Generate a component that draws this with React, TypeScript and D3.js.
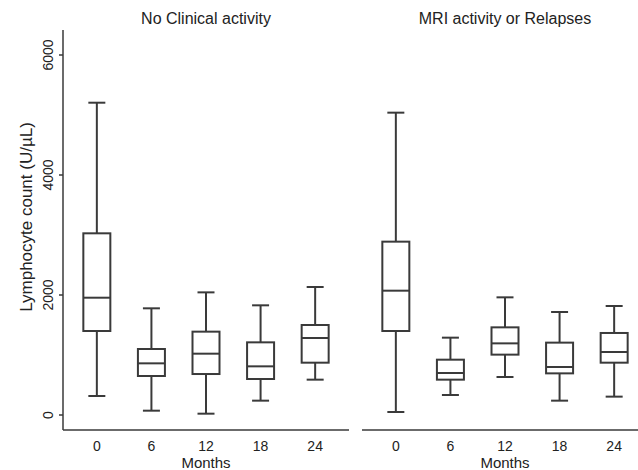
import * as d3 from 'd3';
import React, { useRef, useEffect } from 'react';

const months = ['0', '6', '12', '18', '24'];
const panelTitles = ['No Clinical activity', 'MRI activity or Relapses'];

// [lower whisker, Q1, median, Q3, upper whisker] per month
const noClinical = [
  [317, 1400, 1955, 3028, 5205],
  [72, 650, 861, 1100, 1778],
  [22, 683, 1022, 1389, 2044],
  [239, 600, 811, 1211, 1828],
  [589, 872, 1283, 1500, 2133],
];
const mriRelapses = [
  [50, 1400, 2072, 2889, 5039],
  [333, 589, 700, 922, 1289],
  [633, 1006, 1194, 1461, 1961],
  [239, 694, 800, 1206, 1717],
  [306, 872, 1050, 1367, 1817],
];
const yTicks = [0, 2000, 4000, 6000];

function App() {
  const svgRef = useRef(null);

  useEffect(() => {
    const width = 638,
      height = 470;
    const stroke = '#3a3a3a';
    const font = '"Liberation Sans", Arial, sans-serif';

    const svg = d3
      .select(svgRef.current)
      .attr('width', width)
      .attr('height', height)
      .style('display', 'block')
      .style('font-family', font);
    svg.selectAll('*').remove();

    const y = d3.scaleLinear().domain([0, 6000]).range([415, 55]);
    const axisBottom = 430;
    const panels = [
      { x0: 63, x1: 349, data: noClinical, title: panelTitles[0] },
      { x0: 362, x1: 648, data: mriRelapses, title: panelTitles[1] },
    ];

    // y axis
    const yAxis = svg.append('g');
    yAxis
      .append('line')
      .attr('x1', 63)
      .attr('x2', 63)
      .attr('y1', y(6415))
      .attr('y2', axisBottom)
      .attr('stroke', stroke)
      .attr('stroke-width', 1.5);
    yTicks.forEach((t) => {
      yAxis
        .append('line')
        .attr('x1', 59)
        .attr('x2', 63)
        .attr('y1', y(t))
        .attr('y2', y(t))
        .attr('stroke', stroke)
        .attr('stroke-width', 1.5);
      yAxis
        .append('text')
        .attr('transform', 'translate(53,' + y(t) + ') rotate(-90)')
        .attr('text-anchor', 'middle')
        .attr('font-size', 14)
        .attr('fill', '#222')
        .text(t);
    });
    svg
      .append('text')
      .attr('transform', 'translate(32,217) rotate(-90)')
      .attr('text-anchor', 'middle')
      .attr('font-size', 17)
      .attr('fill', '#222')
      .text('Lymphocyte count (U/µL)');

    panels.forEach((p) => {
      const x = d3.scalePoint().domain(months).range([p.x0, p.x1]).padding(0.62);
      const g = svg.append('g');

      g.append('line')
        .attr('x1', p.x0)
        .attr('x2', p.x1)
        .attr('y1', axisBottom)
        .attr('y2', axisBottom)
        .attr('stroke', stroke)
        .attr('stroke-width', 1.5);

      g.selectAll('.tick')
        .data(months)
        .enter()
        .append('text')
        .attr('x', (d) => x(d))
        .attr('y', 451)
        .attr('text-anchor', 'middle')
        .attr('font-size', 14)
        .attr('fill', '#222')
        .text((d) => d);

      g.append('text')
        .attr('x', (p.x0 + p.x1) / 2)
        .attr('y', 468)
        .attr('text-anchor', 'middle')
        .attr('font-size', 15)
        .attr('fill', '#222')
        .text('Months');

      g.append('text')
        .attr('x', (p.x0 + p.x1) / 2)
        .attr('y', 24)
        .attr('text-anchor', 'middle')
        .attr('font-size', 16)
        .attr('fill', '#222')
        .text(p.title);

      const boxW = 27,
        capW = 17;
      p.data.forEach((s, i) => {
        const cx = x(months[i]);
        const [lo, q1, med, q3, hi] = s;
        const b = g.append('g').attr('stroke', stroke).attr('stroke-width', 2).attr('fill', 'none');
        b.append('line').attr('x1', cx).attr('x2', cx).attr('y1', y(hi)).attr('y2', y(q3));
        b.append('line').attr('x1', cx).attr('x2', cx).attr('y1', y(q1)).attr('y2', y(lo));
        b.append('line').attr('x1', cx - capW / 2).attr('x2', cx + capW / 2).attr('y1', y(hi)).attr('y2', y(hi));
        b.append('line').attr('x1', cx - capW / 2).attr('x2', cx + capW / 2).attr('y1', y(lo)).attr('y2', y(lo));
        b.append('rect')
          .attr('x', cx - boxW / 2)
          .attr('y', y(q3))
          .attr('width', boxW)
          .attr('height', y(q1) - y(q3));
        b.append('line').attr('x1', cx - boxW / 2).attr('x2', cx + boxW / 2).attr('y1', y(med)).attr('y2', y(med));
      });
    });
  }, []);

  return (
    <div style={{ position: 'absolute', left: 0, top: 0, width: 638, height: 470, overflow: 'hidden' }}>
      <svg ref={svgRef}></svg>
    </div>
  );
}

export default App;
